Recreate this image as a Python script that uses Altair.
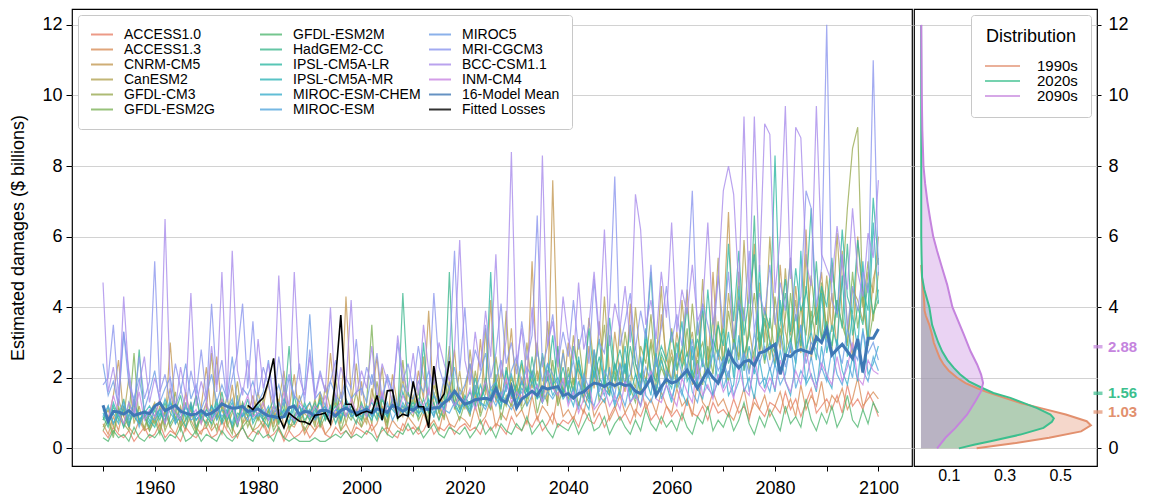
import altair as alt
import pandas as pd

FONT = "Liberation Sans"
YEARS = list(range(1950, 2101))

MODELS = ["ACCESS1.0", "ACCESS1.3", "CNRM-CM5", "CanESM2", "GFDL-CM3", "GFDL-ESM2G",
          "GFDL-ESM2M", "HadGEM2-CC", "IPSL-CM5A-LR", "IPSL-CM5A-MR", "MIROC-ESM-CHEM", "MIROC-ESM",
          "MIROC5", "MRI-CGCM3", "BCC-CSM1.1", "INM-CM4"]
MODEL_COLORS = ["#e8826a", "#d98f5a", "#c49a55", "#b3a454", "#9aab52", "#7fb35a",
                "#52b873", "#3fb88f", "#2fb8a3", "#30b5b8", "#3aafcc", "#55a7dd",
                "#6f9ee6", "#8c96ee", "#a98ceb", "#c985e3"]
MEAN_NAME = "16-Model Mean"
FIT_NAME = "Fitted Losses"
MEAN_COLOR = "#3f78b5"
FIT_COLOR = "#000000"

ACCESS1_0 = [0.5,0.3,0.6,0.4,0.3,0.5,0.2,0.4,0.6,0.3, 0.4,0.7,0.3,0.5,0.4,0.2,0.6,0.4,0.3,0.5,
             0.6,0.3,0.4,0.8,0.5,0.3,0.4,0.6,0.3,0.5, 0.4,0.7,0.3,0.4,0.6,0.2,0.5,0.3,0.4,0.6,
             0.3,0.5,0.7,0.4,0.3,0.6,0.4,0.5,0.3,0.6, 0.5,0.4,0.7,0.3,0.5,0.6,0.4,0.3,0.7,0.5,
             0.6,0.4,0.5,0.8,0.4,0.6,0.5,0.7,0.4,0.6, 0.7,0.5,0.6,0.4,0.8,0.5,0.7,0.6,0.4,0.9,
             0.6,0.5,0.8,0.6,0.9,0.5,0.7,1.0,0.6,0.8, 0.7,0.9,0.6,1.1,0.8,0.7,1.0,0.6,0.9,1.2,
             0.8,1.0,0.7,1.1,0.9,1.3,0.8,1.0,0.7,1.2, 0.9,1.1,0.8,1.4,1.0,0.9,1.2,0.8,1.3,1.0,
             1.1,0.9,1.4,1.0,1.2,0.8,1.5,1.1,0.9,1.3, 1.2,1.0,1.6,1.1,1.4,0.9,1.3,1.7,1.0,1.2,
             1.4,1.1,1.5,1.0,1.8,1.2,1.4,1.1,1.6,1.3, 0.9]
ACCESS1_3 = [0.7,0.4,0.9,0.5,1.2,0.6,0.4,0.8,0.5,0.6, 0.9,0.5,1.1,0.6,0.4,0.8,0.5,1.3,0.6,0.4,
             0.8,0.5,0.7,0.4,1.0,0.6,0.3,0.7,0.9,0.5, 0.6,0.8,0.4,1.1,0.5,0.3,0.7,0.6,0.9,0.4,
             0.7,0.5,0.9,0.4,0.6,1.0,0.5,0.7,0.4,0.8, 0.6,0.9,0.5,0.7,1.2,0.4,0.8,0.6,0.5,0.9,
             0.7,0.5,1.0,0.6,0.8,0.5,1.1,0.7,0.6,0.9, 0.8,0.6,1.2,0.7,0.9,1.4,0.6,1.0,0.8,1.3,
             0.9,1.1,0.7,1.5,0.8,1.2,1.0,0.7,1.6,0.9, 1.1,0.8,1.3,1.0,1.7,0.9,1.2,1.4,0.8,1.1,
             1.5,1.0,1.3,0.9,1.8,1.1,1.4,1.0,1.6,1.2, 1.0,1.7,1.2,1.4,0.9,1.9,1.3,1.1,1.6,1.2,
             1.4,1.0,0.8,1.2,1.7,0.9,1.3,1.1,1.5,0.9, 1.2,1.6,1.0,1.4,0.9,1.8,1.1,1.5,1.2,1.9,
             1.0,1.5,1.3,1.7,1.1,1.4,2.0,1.2,1.4,1.6, 1.4]
CNRM_CM5 = [1.2,0.8,1.5,2.5,0.9,0.6,1.3,0.7,1.0,0.5, 0.9,1.4,0.6,3.0,1.1,0.7,1.6,0.8,0.5,1.2,
            2.3,0.9,2.6,1.1,0.7,1.8,0.6,1.3,0.9,1.5, 0.8,1.2,1.9,0.7,1.4,0.6,1.1,2.1,0.8,1.0,
            1.3,0.7,1.6,0.9,2.7,1.2,0.8,4.3,1.5,0.9, 1.9,0.8,1.4,2.6,1.1,0.7,2.1,1.2,0.9,1.6,
            1.0,2.2,1.4,3.9,1.2,0.8,2.0,1.3,2.8,1.1, 1.7,2.4,1.2,3.1,1.5,4.2,1.3,2.2,1.8,3.4,
            1.4,2.0,1.6,5.3,1.9,2.6,1.2,7.6,2.3,1.5, 3.0,1.8,2.4,1.3,2.9,1.7,3.6,2.0,1.5,3.3,
            2.1,1.6,4.1,2.4,1.8,3.0,2.2,1.5,3.8,2.6, 1.9,3.3,2.4,4.5,1.8,2.7,3.9,2.1,5.0,2.5,
            3.6,6.7,2.8,4.3,2.2,3.5,5.8,2.6,4.0,3.1, 2.4,5.2,3.3,2.7,4.6,3.0,6.2,2.5,3.8,5.0,
            3.2,4.4,2.8,5.6,3.5,2.6,6.0,4.1,3.0,4.8, 5.4]
CANESM2 = [0.8,1.1,0.6,1.4,0.9,2.0,0.7,1.2,0.5,1.0, 1.3,0.6,1.0,1.7,0.8,1.2,0.6,0.9,1.5,0.7,
           1.1,2.7,0.8,1.4,0.6,1.0,1.9,0.7,1.2,0.9, 1.6,0.8,1.1,0.6,1.3,2.2,0.9,0.7,1.5,1.0,
           0.8,1.4,0.6,1.8,1.1,0.9,1.6,0.7,1.2,2.4, 1.0,0.7,1.7,1.1,2.3,0.8,1.4,1.0,2.0,0.9,
           1.5,1.1,2.6,0.9,1.8,1.3,0.8,1.9,1.2,2.2, 1.1,2.8,1.5,1.0,3.4,1.3,2.1,1.6,3.9,1.4,
           2.5,1.2,3.0,1.7,2.2,1.4,3.6,1.9,1.3,2.8, 1.6,3.2,2.0,1.4,3.7,2.3,1.8,4.3,2.1,1.7,
           3.5,2.2,1.6,4.0,2.5,1.9,3.1,2.4,4.6,2.0, 2.8,1.8,4.2,2.6,3.3,2.1,4.8,2.5,3.0,5.4,
           2.3,4.4,3.1,2.6,5.9,3.4,2.4,4.7,3.0,6.0, 3.6,2.8,5.1,3.2,4.2,2.7,5.5,3.5,4.0,3.1,
           4.9,3.3,6.1,3.8,2.9,4.5,4.2,3.6,5.0,4.4, 6.0]
GFDL_CM3 = [0.6,0.9,0.4,1.1,0.7,0.5,1.4,0.8,0.6,1.0, 0.7,1.2,0.5,0.9,1.6,0.6,0.8,1.1,0.5,0.9,
            1.3,0.6,1.0,0.7,1.5,0.5,0.9,1.2,0.6,1.0, 0.8,1.4,0.6,1.0,0.7,1.8,0.5,0.9,1.2,0.7,
            1.1,0.6,1.5,0.8,1.0,2.0,0.7,1.3,0.9,1.6, 0.8,1.2,0.7,1.9,1.0,0.6,1.4,0.9,2.5,1.1,
            0.9,1.6,1.2,0.8,2.1,1.0,1.5,2.9,1.1,1.7, 1.3,0.9,2.2,1.4,1.8,1.1,2.6,1.5,1.2,2.0,
            1.6,2.4,1.2,1.9,3.0,1.4,2.2,1.7,2.8,1.5, 2.3,1.6,3.1,1.9,1.4,2.7,2.1,3.5,1.8,2.4,
            1.9,3.3,2.2,1.7,2.9,2.4,3.8,2.0,2.6,1.8, 3.4,2.3,2.8,2.0,4.1,2.6,3.0,2.2,3.7,2.7,
            2.4,3.9,2.9,5.0,2.6,3.3,4.4,2.8,3.6,2.5, 4.3,3.0,3.7,5.4,2.8,4.0,3.2,4.9,3.5,4.5,
            3.4,5.2,3.8,4.6,6.8,8.5,9.1,4.0,5.3,3.6, 5.0]
GFDL_ESM2G = [0.5,0.8,0.3,1.2,0.6,0.9,2.7,0.7,0.9,0.5, 0.8,0.4,1.1,0.6,0.9,0.5,1.3,0.7,0.4,1.0,
              0.6,0.9,0.5,1.2,0.7,0.4,1.5,0.6,0.8,0.5, 0.9,0.6,1.1,0.5,0.8,1.3,0.6,0.7,1.0,0.5,
              0.8,1.2,0.6,0.9,0.7,1.4,0.5,1.0,0.8,1.1, 0.6,1.3,3.5,0.9,1.1,0.7,1.5,0.8,1.2,0.9,
              1.4,0.8,1.1,0.7,1.6,1.0,0.9,2.6,1.2,0.8, 1.3,1.0,1.7,0.9,1.4,1.1,2.0,0.8,1.5,1.2,
              1.8,1.1,1.4,2.2,1.0,1.6,1.3,2.5,1.2,1.7, 1.4,2.0,1.2,1.8,1.5,2.6,1.3,1.9,1.6,2.2,
              1.5,2.4,1.7,1.3,2.1,1.8,3.0,1.6,2.3,1.9, 2.6,1.7,2.2,3.4,1.9,2.5,1.8,2.9,2.1,3.6,
              2.3,1.9,3.1,2.5,4.0,2.2,2.8,3.3,2.4,3.7, 2.7,3.4,2.5,4.4,2.9,3.2,2.6,3.9,3.0,4.7,
              3.1,2.8,4.2,3.5,3.0,5.0,3.4,4.5,2.9,3.8, 4.2]
GFDL_ESM2M = [0.3,0.2,0.5,0.3,0.4,0.2,0.6,0.3,0.2,0.4, 0.3,0.5,0.2,0.4,0.3,0.6,0.2,0.3,0.5,0.2,
              0.4,0.3,0.2,0.5,0.3,0.2,0.4,0.6,0.3,0.2, 0.5,0.3,0.4,0.2,0.6,0.3,0.2,0.3,0.2,0.2,
              0.2,0.3,0.2,0.2,0.3,0.4,0.3,0.5,0.3,0.4, 0.3,0.5,0.4,0.2,0.6,0.4,0.3,0.5,0.4,0.7,
              0.4,0.6,0.3,0.5,0.7,0.4,0.3,0.6,0.5,0.4, 0.6,0.3,0.5,0.8,0.4,0.6,0.3,0.7,0.5,0.4,
              0.7,0.5,0.9,0.4,0.6,0.8,0.5,0.3,0.7,0.6, 0.5,0.8,0.4,0.7,1.0,0.5,0.6,0.9,0.4,0.7,
              0.9,0.6,0.4,0.8,0.5,1.1,0.7,0.5,0.9,0.6, 0.8,0.5,1.0,0.6,0.4,0.9,0.7,1.2,0.5,0.8,
              0.6,1.0,0.5,0.8,1.3,0.7,0.4,0.9,0.6,1.1, 0.8,0.5,1.2,0.7,0.9,0.6,1.4,0.8,0.5,1.0,
              0.7,1.2,0.6,0.9,1.5,0.8,0.6,1.1,0.7,1.3, 1.0]
HADGEM2_CC = [0.9,0.6,1.2,0.8,1.4,0.7,1.0,2.8,0.9,0.6, 1.1,0.8,1.3,0.7,1.0,1.5,0.8,1.2,0.6,0.9,
              0.7,1.2,0.9,1.6,0.8,1.1,0.6,1.3,0.9,1.0, 1.2,0.8,1.0,1.4,0.7,1.1,2.9,0.9,1.2,0.8,
              1.0,1.3,0.7,1.1,0.9,1.5,0.8,1.2,1.0,0.7, 1.3,0.9,1.1,0.8,1.4,1.0,1.2,0.9,4.4,1.6,
              1.1,0.9,1.4,1.0,1.3,0.8,1.2,5.0,1.5,1.1, 1.4,1.0,1.8,1.2,2.0,1.3,1.6,1.1,2.3,1.5,
              1.2,1.9,1.4,2.6,1.6,1.3,2.2,1.7,2.9,1.5, 2.1,1.6,2.5,1.8,1.4,2.8,2.0,1.7,3.2,1.9,
              2.4,1.8,2.9,2.1,1.6,3.3,2.2,1.9,2.7,2.3, 1.9,3.0,2.3,2.7,2.0,3.6,2.4,2.1,3.1,2.6,
              3.4,2.4,2.9,4.1,2.6,3.2,6.6,2.8,3.7,3.0, 2.7,3.5,4.4,3.0,3.8,2.9,4.6,3.3,5.3,3.1,
              3.6,2.9,4.2,3.4,5.8,3.2,4.0,3.5,4.7,3.8, 4.5]
IPSL_CM5A_LR = [0.8,1.2,0.7,1.0,0.6,1.3,0.9,0.7,1.1,0.8, 0.6,1.0,0.8,1.4,0.7,0.9,0.6,1.2,0.8,1.0,
                0.9,0.7,1.3,0.8,1.1,0.6,1.0,0.9,1.4,0.7, 1.0,0.8,0.6,1.2,0.9,1.1,0.7,1.5,0.8,1.3,
                0.9,1.0,1.4,0.8,1.2,0.7,1.1,1.3,0.9,1.0, 0.8,1.2,0.9,1.1,1.5,0.9,1.3,1.0,1.6,1.1,
                1.3,1.0,3.0,1.2,0.9,1.4,1.1,1.7,1.3,1.0, 1.5,1.2,2.0,1.4,1.7,5.0,1.6,1.3,2.2,1.5,
                1.8,2.5,1.6,2.1,1.4,2.7,1.9,3.2,1.7,2.3, 1.6,2.9,2.2,1.9,3.4,2.0,2.6,1.8,3.7,2.2,
                2.8,2.1,3.5,2.4,2.0,3.0,5.0,2.3,2.9,2.5, 3.3,2.2,2.8,4.0,2.5,3.1,2.3,4.5,2.7,3.5,
                2.9,5.8,3.6,5.6,3.2,4.3,5.5,3.0,3.9,3.4, 8.3,3.6,4.8,3.3,5.1,3.9,4.4,6.8,3.5,4.6,
                4.0,5.4,3.7,6.2,4.3,3.8,5.9,4.5,3.9,7.1, 5.2]
IPSL_CM5A_MR = [1.0,0.7,1.3,0.9,1.1,0.6,1.4,0.8,1.0,1.2, 0.9,1.1,0.7,1.3,1.0,0.8,1.2,0.9,1.5,0.8,
                1.1,0.9,1.4,0.7,1.0,1.3,0.8,1.2,1.0,0.9, 1.3,1.0,0.8,1.2,0.9,1.4,1.1,0.7,1.0,1.2,
                0.8,1.1,1.3,0.9,1.0,1.2,0.8,1.4,1.1,0.9, 1.2,1.0,0.8,1.3,1.1,0.9,1.4,1.2,1.0,1.3,
                1.1,1.4,1.0,1.2,1.5,1.1,1.3,1.6,1.2,1.4, 1.3,1.6,1.2,1.8,1.4,1.5,1.9,1.3,1.7,2.1,
                1.5,1.9,1.6,2.2,1.7,1.4,2.4,1.8,2.0,1.6, 1.9,1.4,2.6,1.6,1.3,2.2,3.1,1.7,1.5,2.4,
                1.8,2.9,1.5,2.1,1.7,3.4,1.9,1.6,2.5,2.0, 1.7,2.6,3.6,1.9,2.2,1.8,4.1,2.0,2.7,1.9,
                2.4,3.3,2.0,4.6,2.2,2.9,2.1,5.2,2.5,3.0, 2.3,4.2,2.6,3.1,2.4,5.6,2.8,3.3,2.5,4.4,
                2.7,3.5,2.9,4.9,2.6,3.8,2.8,5.3,3.0,6.4, 4.1]
MIROC_ESM_CHEM = [1.1,0.8,1.0,0.7,1.2,0.9,1.3,0.8,1.0,0.7, 1.2,0.9,1.4,1.0,0.8,1.1,0.9,1.3,0.8,1.0,
                  0.9,1.2,0.8,1.1,1.0,0.7,1.3,0.9,1.1,0.8, 1.0,0.9,1.2,0.8,1.1,1.0,0.7,1.2,0.9,1.1,
                  1.3,0.9,1.0,1.2,0.8,1.1,1.0,0.9,1.2,1.0, 0.9,1.1,1.3,1.0,0.8,1.2,1.1,0.9,1.3,1.0,
                  1.2,1.0,1.1,1.4,1.0,1.3,1.1,1.5,1.2,1.0, 1.4,1.1,1.6,1.3,1.2,1.7,1.4,1.2,1.8,1.5,
                  1.3,1.7,1.5,1.9,1.4,1.6,2.0,1.5,1.8,1.4, 1.6,1.2,1.9,1.4,1.1,2.2,1.5,1.3,1.8,1.2,
                  1.7,2.4,1.3,1.6,1.2,2.0,1.5,2.7,1.4,1.8, 1.3,2.1,1.6,1.2,2.9,1.7,1.4,2.2,1.5,1.9,
                  2.6,1.5,1.8,3.2,1.6,2.0,1.4,2.5,1.7,2.3, 1.6,2.8,1.9,1.5,2.4,3.5,1.8,2.1,1.6,2.9,
                  2.0,1.7,3.1,2.2,1.8,2.6,1.9,3.4,2.1,2.4, 2.9]
MIROC_ESM = [0.9,1.2,0.7,1.0,1.3,0.8,1.1,0.6,1.0,0.9, 0.8,1.1,0.9,1.3,0.7,1.0,1.2,0.8,0.9,1.1,
             1.0,0.8,1.2,0.9,1.1,1.4,0.7,1.0,0.8,1.2, 0.9,1.1,0.8,1.0,1.3,0.9,1.0,0.8,1.2,1.0,
             1.1,0.8,1.0,1.2,0.9,1.1,1.0,1.3,0.9,1.0, 1.0,1.2,0.9,1.1,1.0,1.3,0.8,1.1,1.2,0.9,
             1.1,1.3,1.0,1.2,0.9,1.4,1.1,1.0,1.3,1.2, 1.2,1.0,1.4,1.3,1.1,1.5,1.2,1.6,1.3,1.1,
             1.4,1.6,1.2,1.5,1.8,1.3,1.6,1.4,1.7,1.9, 1.3,1.7,1.1,2.0,1.4,1.2,1.8,1.5,2.3,1.3,
             1.6,1.2,1.9,1.4,2.6,1.5,1.3,1.8,1.6,2.1, 1.4,1.9,1.5,2.4,1.6,1.3,2.0,1.7,1.5,2.8,
             1.7,2.2,1.5,1.9,2.7,1.6,2.3,1.8,2.0,1.6, 2.4,1.8,2.1,3.0,1.7,2.2,1.9,2.6,1.8,2.3,
             1.9,2.8,2.1,1.8,2.5,2.0,3.2,2.2,1.9,2.6, 2.2]
MIROC5 = [2.4,1.5,1.9,1.2,3.3,1.8,1.4,2.0,1.1,1.6, 2.2,1.3,1.7,2.0,1.2,1.6,2.4,1.4,1.8,1.1,
          1.5,2.1,1.3,1.8,1.4,2.6,1.2,1.7,1.5,1.9, 1.3,1.6,2.5,1.4,1.8,1.2,2.0,1.5,1.3,1.7,
          3.8,1.4,1.6,1.2,1.9,1.5,1.3,1.8,1.4,1.6, 1.7,1.3,2.1,1.5,1.4,2.0,1.6,1.2,1.8,1.5,
          1.4,1.9,1.6,2.2,1.5,1.3,2.0,1.7,2.3,1.5, 1.8,2.4,1.6,2.1,2.7,1.7,1.9,2.5,1.6,2.2,
          2.6,1.8,2.3,2.0,2.8,1.9,2.4,2.1,1.8,2.7, 1.8,2.5,1.5,2.1,1.7,2.8,1.6,2.2,1.9,1.5,
          2.4,1.8,2.1,2.9,1.7,2.3,1.9,2.6,1.6,2.2, 1.9,2.7,2.1,2.4,3.1,1.9,2.5,2.0,2.8,2.2,
          2.5,2.0,3.0,2.3,2.7,2.1,3.3,2.4,2.9,2.2, 2.7,3.2,2.3,2.9,2.5,3.5,2.4,3.0,2.8,2.3,
          3.1,2.6,2.9,2.4,3.4,2.8,2.5,3.3,2.7,3.0, 2.5]
MRI_CGCM3 = [1.8,2.0,3.5,1.5,3.3,2.2,1.2,2.6,1.4,1.9, 5.3,1.6,2.1,1.3,2.4,1.7,1.1,2.2,1.5,2.8,
             1.4,4.1,1.8,2.5,1.3,2.0,2.7,4.1,1.7,3.6, 1.5,2.3,1.8,1.2,2.6,1.6,2.1,1.4,2.4,1.3,
             2.8,1.5,2.2,1.6,1.9,2.5,1.4,2.0,1.7,3.1, 1.5,2.3,1.8,2.7,1.4,2.1,1.6,3.0,1.9,2.4,
             1.7,2.9,2.0,1.5,4.4,2.3,1.8,2.6,5.6,2.2, 4.0,1.9,2.8,2.3,3.5,2.0,2.7,4.1,2.4,3.0,
             2.1,3.6,2.5,3.2,6.6,2.3,2.9,3.8,2.4,3.3, 2.6,4.2,2.8,3.5,2.4,4.8,3.0,2.7,4.0,7.7,
             2.9,3.6,4.4,2.8,3.9,3.1,5.2,2.7,3.4,4.6, 3.0,3.8,2.9,4.5,7.3,3.2,4.1,3.5,2.8,4.9,
             3.4,5.0,3.1,4.2,3.6,5.6,3.3,4.4,3.8,5.2, 3.5,4.7,3.9,5.4,3.6,4.3,7.3,6.8,4.0,5.1,
             12.0,4.2,3.8,5.5,3.4,4.6,3.9,5.0,4.4,11.0, 4.9]
BCC_CSM1_1 = [4.7,1.6,2.3,1.2,4.3,2.0,1.0,1.8,2.6,1.3, 2.0,1.4,6.5,1.7,1.1,2.3,1.5,4.4,1.2,1.9,
              1.3,2.9,1.6,5.0,1.4,5.6,2.2,1.5,2.5,1.1, 3.1,1.7,2.4,1.3,4.9,1.8,1.2,5.0,2.0,1.5,
              2.6,1.4,2.1,1.6,4.0,1.3,2.3,1.8,4.2,1.5, 2.2,1.7,2.9,1.4,2.4,1.9,1.3,3.2,2.1,1.6,
              2.7,1.5,3.5,2.2,1.8,3.0,2.4,1.9,2.8,5.9, 2.5,1.8,3.3,2.2,3.9,2.6,5.5,2.0,3.1,8.4,
              2.4,3.4,2.0,4.0,2.6,8.3,2.9,3.6,2.3,4.3, 3.1,2.5,4.7,2.8,3.5,5.0,3.2,6.2,2.9,4.1,
              3.4,4.6,3.0,7.2,6.2,3.5,4.2,3.1,5.0,3.7, 6.4,3.3,4.5,3.8,5.2,3.6,4.0,6.4,3.5,4.8,
              7.3,8.0,7.2,4.5,9.4,4.1,9.4,5.0,9.2,8.9, 4.4,6.0,9.7,4.8,9.1,8.8,5.3,4.6,9.7,5.5,
              5.1,4.7,6.3,5.2,4.5,6.8,5.0,4.3,6.1,5.4, 7.6]
INM_CM4 = [1.2,0.8,1.5,1.0,0.7,1.3,0.9,1.6,0.8,1.1, 0.9,1.4,0.7,1.2,1.0,0.8,1.5,0.9,1.1,0.7,
           1.3,0.8,1.0,1.4,0.9,1.2,0.7,1.1,1.5,0.9, 1.0,1.3,0.8,1.2,0.9,1.6,1.0,0.8,1.3,1.1,
           0.9,1.2,1.0,1.5,0.8,1.1,1.3,0.9,1.4,1.0, 1.2,0.9,1.4,1.1,1.6,1.0,1.3,0.9,1.5,1.2,
           1.0,1.4,1.2,1.7,1.1,1.3,1.0,1.6,1.2,1.5, 1.3,1.7,1.1,1.5,1.9,1.2,1.6,1.4,2.0,1.3,
           1.6,1.4,2.1,1.5,1.8,1.3,2.2,1.7,1.5,2.0, 1.2,1.6,1.0,1.4,1.8,1.1,1.3,1.7,1.2,1.5,
           1.1,1.9,1.3,1.5,1.2,1.7,2.2,1.4,1.3,1.8, 1.5,1.2,2.0,1.6,1.3,2.4,1.5,1.8,1.4,2.1,
           1.6,1.9,1.4,2.3,1.7,1.5,2.6,1.8,1.6,2.0, 1.7,2.5,1.9,1.6,2.2,1.8,2.8,2.0,1.7,2.4,
           2.1,1.8,2.6,1.9,2.3,3.0,2.0,1.8,2.5,2.2, 2.1]

MODEL_VALUES = [ACCESS1_0, ACCESS1_3, CNRM_CM5, CANESM2, GFDL_CM3, GFDL_ESM2G,
                GFDL_ESM2M, HADGEM2_CC, IPSL_CM5A_LR, IPSL_CM5A_MR, MIROC_ESM_CHEM, MIROC_ESM,
                MIROC5, MRI_CGCM3, BCC_CSM1_1, INM_CM4]

MEAN = [1.22,0.77,1.05,1.03,0.97,1.07,0.93,0.98,1.03,0.98, 1.2,1.29,1.07,1.14,1.22,1.05,1.0,0.95,0.97,1.07,
        0.95,1.0,1.1,1.26,1.19,1.14,1.15,1.19,1.05,1.07, 1.12,1.0,0.92,0.9,0.86,0.9,1.15,1.2,0.95,1.05,
        1.02,0.9,1.07,1.08,1.03,0.92,1.07,1.14,1.05,1.0, 1.05,1.1,1.0,1.12,1.08,1.02,1.22,1.15,1.05,1.14,
        1.08,1.19,1.12,1.1,1.15,1.15,1.3,1.4,1.62,1.42, 1.25,1.3,1.38,1.4,1.42,1.38,1.7,1.38,1.3,1.74,
        1.15,1.4,1.5,1.62,1.5,1.74,1.68,1.72,1.75,1.5, 1.55,1.42,1.55,1.6,1.75,1.85,1.82,1.75,1.85,1.78,
        1.85,1.78,1.8,1.62,1.55,1.75,2.0,1.5,1.75,1.95, 1.85,1.9,2.05,2.22,1.95,1.7,1.95,2.22,2.0,1.85,
        2.2,2.75,2.45,2.28,2.45,2.5,2.35,2.7,2.75,2.85, 2.95,2.1,2.65,2.6,2.75,2.8,2.75,2.7,3.15,3.0,
        3.38,2.65,2.8,2.95,2.75,2.55,3.1,2.15,3.12,3.12, 3.38]

FIT_YEARS = list(range(1978, 2018))
FIT = [1.22,1.1,1.29,1.43,1.9,2.55,0.9,0.58,1.0,0.88, 0.77,0.75,0.68,0.94,0.96,1.0,0.7,2.0,3.78,1.25,
       1.25,0.92,1.0,1.05,1.0,1.5,0.8,1.63,1.65,0.86, 0.97,0.92,1.9,1.18,1.18,0.58,2.33,1.3,1.55,2.47]

# distribution panel
DECADES = ["1990s", "2020s", "2090s"]
DEC_COLORS = ["#e2906e", "#3cbf8e", "#c584de"]
D1990_Y = [0.0,0.15,0.3,0.48,0.65,0.77,0.96,1.14,1.28,1.43,1.6,1.71,1.85,2.0,2.2,2.37,2.55,2.75,3.0,3.22,3.5,3.75,3.9,4.1,4.5,4.8,5.2]
D1990_D = [0.20,0.34,0.46,0.575,0.61,0.595,0.52,0.43,0.36,0.30,0.235,0.2,0.16,0.13,0.1,0.082,0.068,0.058,0.046,0.04,0.03,0.018,0.013,0.012,0.008,0.004,0.001]
D2020_Y = [0.0,0.1,0.2,0.39,0.58,0.75,0.85,0.96,1.14,1.28,1.43,1.57,1.71,1.9,2.1,2.28,2.5,2.75,3.0,3.22,3.5,4.0,4.5,4.85,5.5,6.0,7.0,8.0,10.0,12.0]
D2020_D = [0.136,0.19,0.25,0.357,0.44,0.47,0.477,0.465,0.417,0.37,0.321,0.26,0.22,0.172,0.14,0.118,0.095,0.076,0.062,0.052,0.04,0.03,0.012,0.004,0.002,0.001,0.001,0.001,0.001,0.0005]
D2090_Y = [0.0,0.3,0.58,0.96,1.34,1.62,1.85,2.09,2.37,2.75,3.22,4.0,4.64,5.11,5.59,6.0,6.5,7.0,7.5,8.0,9.0,10.0,11.0,12.0]
D2090_D = [0.058,0.088,0.124,0.166,0.196,0.216,0.223,0.216,0.202,0.178,0.154,0.113,0.094,0.076,0.058,0.044,0.033,0.023,0.015,0.009,0.005,0.003,0.002,0.001]
ANN_VALUES = [2.88, 1.56, 1.03]
ANN_LABELS = ["2.88", "1.56", "1.03"]
ANN_COLORS = ["#c584de", "#3cbf8e", "#e2906e"]

Y_TICKS = [0, 2, 4, 6, 8, 10, 12]
X_TICKS = list(range(1950, 2101, 10))
D_TICKS = [0.1, 0.3, 0.5]

# ---------------- data tables ----------------
rows = []
for name, vals in zip(MODELS, MODEL_VALUES):
    for yr, v in zip(YEARS, vals):
        rows.append({"year": yr, "value": v, "series": name})
mdf = pd.DataFrame(rows)
meandf = pd.DataFrame({"year": YEARS, "value": MEAN, "series": MEAN_NAME})
fitdf = pd.DataFrame({"year": FIT_YEARS, "value": FIT, "series": FIT_NAME})

ALL_NAMES = MODELS + [MEAN_NAME, FIT_NAME]
ALL_COLORS = MODEL_COLORS + [MEAN_COLOR, FIT_COLOR]

ddfs = []
for ys, ds in zip([D1990_Y, D2020_Y, D2090_Y], [D1990_D, D2020_D, D2090_D]):
    ddfs.append(pd.DataFrame({"value": ys, "density": ds}))
ddf_all = pd.concat([d.assign(decade=dec) for d, dec in zip(ddfs, DECADES)], ignore_index=True)
adf = pd.DataFrame({"value": ANN_VALUES, "label": ANN_LABELS, "col": ANN_COLORS})

YDOM = [-0.5, 12.45]
LW, RW, H = 840, 183, 457

main_legend = alt.Legend(title=None, orient="top-left", columns=3, symbolType="stroke", symbolSize=484,
                         symbolStrokeWidth=2, labelFontSize=14, labelFont=FONT, padding=12, offset=6,
                         strokeColor="#c8c8c8", fillColor="white", rowPadding=0, clipHeight=15,
                         columnPadding=7, gridAlign="all", labelOffset=10, labelLimit=300, cornerRadius=3)

xs = alt.X("year:Q", scale=alt.Scale(domain=[1944, 2106.5], nice=False, zero=False),
           axis=alt.Axis(values=X_TICKS, format="d", title=None, grid=False, tickSize=5,
                         labelPadding=8, labelFontSize=18,
                         labelExpr="datum.value % 20 === 0 ? datum.label : ''"))
ys_ = alt.Y("value:Q", scale=alt.Scale(domain=YDOM, nice=False, zero=False),
            axis=alt.Axis(values=Y_TICKS, title="Estimated damages ($ billions)", grid=True,
                          labelPadding=4, titlePadding=14))
col = alt.Color("series:N", scale=alt.Scale(domain=ALL_NAMES, range=ALL_COLORS), legend=main_legend)

models_layer = alt.Chart(mdf).mark_line(clip=True, strokeWidth=1.2, opacity=0.8).encode(
    x=xs, y=ys_, color=col)
mean_layer = alt.Chart(meandf).mark_line(clip=True, strokeWidth=3).encode(x=xs, y=ys_, color=col)
fit_layer = alt.Chart(fitdf).mark_line(clip=True, strokeWidth=1.6).encode(x=xs, y=ys_, color=col)
left = alt.layer(models_layer, mean_layer, fit_layer).properties(width=LW, height=H)

dist_legend = alt.Legend(title="Distribution", orient="top-right", symbolType="stroke", symbolSize=1225,
                         symbolStrokeWidth=2, labelFontSize=15, titleFontSize=18, titleFontWeight="normal",
                         titleAnchor="middle", padding=13, offset=6, strokeColor="#c8c8c8", fillColor="white",
                         labelOffset=16, rowPadding=0, clipHeight=14, titlePadding=13, cornerRadius=3)

xd = alt.X("density:Q", scale=alt.Scale(domain=[-0.025, 0.632], nice=False, zero=False),
           axis=alt.Axis(values=D_TICKS, format=".1f", title=None, grid=False, tickSize=0,
                         labelPadding=1, labelFontSize=16))
yd = alt.Y("value:Q", scale=alt.Scale(domain=YDOM, nice=False, zero=False),
           axis=alt.Axis(values=Y_TICKS, orient="right", title=None, grid=True, labelPadding=7, tickSize=4,
                         labelExpr="datum.value === 2 ? '' : datum.label",
                         tickOpacity={"condition": {"test": "datum.value === 2", "value": 0}, "value": 1}))

layers = []
for d, c in zip(ddfs, DEC_COLORS):
    layers.append(alt.Chart(d).mark_area(orient="horizontal", color=c, fillOpacity=0.36, strokeWidth=0).encode(
        x=xd, y=yd))
layers.append(alt.Chart(ddf_all).mark_line(strokeWidth=2).encode(
    x=xd, y=yd,
    color=alt.Color("decade:N", scale=alt.Scale(domain=DECADES, range=DEC_COLORS), legend=dist_legend),
    order=alt.Order("value:Q")))

ticks = alt.Chart(adf).mark_tick(thickness=3.5, size=9, clip=False).encode(
    y=alt.Y("value:Q", scale=alt.Scale(domain=YDOM, nice=False, zero=False)),
    x=alt.value(RW + 1),
    color=alt.Color("col:N", scale=None))
texts = alt.Chart(adf).mark_text(align="left", baseline="middle", fontSize=15, fontWeight="bold",
                                 font=FONT).encode(
    y=alt.Y("value:Q", scale=alt.Scale(domain=YDOM, nice=False, zero=False)),
    x=alt.value(RW + 11),
    text="label:N",
    color=alt.Color("col:N", scale=None))

right = alt.layer(*layers, ticks, texts).properties(width=RW, height=H)

chart = alt.hconcat(left, right, spacing=0).resolve_scale(
    x="independent", y="independent", color="independent"
).resolve_legend(color="independent").properties(
    padding={"left": 1, "top": 0, "right": 0, "bottom": 0}
).configure_view(stroke="black", strokeWidth=1.2).configure_axis(
    labelFont=FONT, titleFont=FONT, labelColor="black", titleColor="black", tickColor="black",
    domain=False, gridColor="#d2d2d2", gridWidth=1, labelFontSize=18, titleFontSize=18,
    titleFontWeight="normal", tickSize=6
).configure_legend(labelFont=FONT, titleFont=FONT, labelColor="black", titleColor="black")

chart.save("out.html", embed_options={"renderer": "svg", "actions": False})
